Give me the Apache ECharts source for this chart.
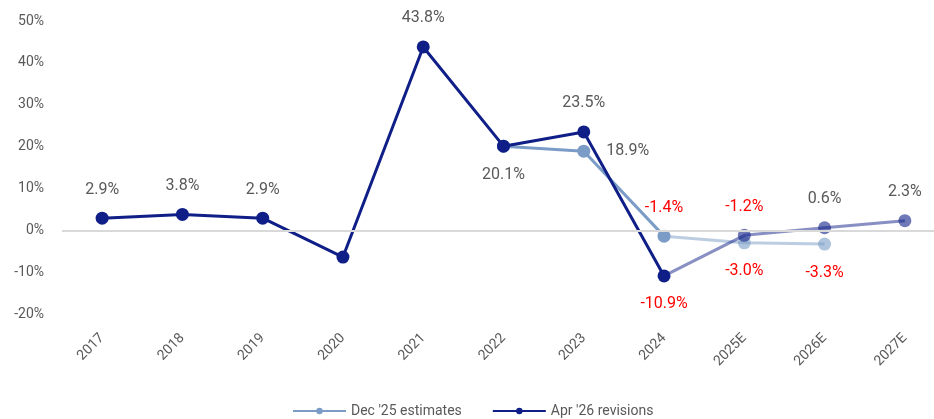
<!DOCTYPE html>
<html>
<head>
<meta charset="utf-8">
<script src="https://cdn.jsdelivr.net/npm/echarts@6/dist/echarts.min.js"></script>
<style>html,body{margin:0;padding:0;background:#fff;}#c{width:934px;height:419px;}</style>
</head>
<body>
<div id="c"></div>
<script>
const categories = ['2017','2018','2019','2020','2021','2022','2023','2024','2025E','2026E','2027E'];
const aprValues = [2.9, 3.8, 2.9, -6.4, 43.8, 20.1, 23.5, -10.9, -1.2, 0.6, 2.3];
const decValues = [null, null, null, null, null, 20.1, 18.9, -1.4, -3.0, -3.3, null];
const yTicks = [-20, -10, 0, 10, 20, 30, 40, 50];
const estimateStart = 7; // 2024 onwards shown faded
const aprLabelPos = ['top','top','top',null,'top','bottom','top','bottom','top','top','top'];
const decLabelPos = [null,null,null,null,null,null,'right','top','bottom','bottom',null];

const APR = [15, 31, 135], DEC = [122, 156, 198];
const FONT = 'Roboto';
const rgba = (c, a) => `rgba(${c[0]},${c[1]},${c[2]},${a})`;

function buildData(values, positions, solid) {
  return values.map((v, i) => {
    if (v === null) return null;
    if (solid && i > estimateStart) return null;
    if (!solid && i < estimateStart) return null;
    const labelHere = positions[i] && (solid ? i <= estimateStart : i > estimateStart);
    const item = { value: v };
    if (!solid && i === estimateStart) item.symbolSize = 0;
    item.label = labelHere ? {
      show: true, position: positions[i], distance: positions[i] === 'right' ? 16 : 14,
      color: v < 0 ? '#ff0000' : '#595959', fontSize: 16, fontFamily: FONT,
      formatter: p => p.value.toFixed(1) + '%'
    } : { show: false };
    return item;
  });
}

function series(name, color, values, positions, solid, z) {
  return {
    name, type: 'line', z,
    data: buildData(values, positions, solid),
    symbol: 'circle', symbolSize: 13,
    connectNulls: false,
    lineStyle: { color: rgba(color, solid ? 1 : 0.5), width: 3 },
    itemStyle: { color: rgba(color, solid ? 1 : 0.6) },
    emphasis: { disabled: true }
  };
}

const decName = "Dec '25 estimates", aprName = "Apr '26 revisions";
const decSolid = series(decName, DEC, decValues, decLabelPos, true, 3);
const aprSolid = series(aprName, APR, aprValues, aprLabelPos, true, 4);
const decFaded = series(decName, DEC, decValues, decLabelPos, false, 1);
const aprFaded = series(aprName, APR, aprValues, aprLabelPos, false, 2);
decFaded.markLine = {
  silent: true, symbol: 'none', label: { show: false },
  lineStyle: { color: '#d9d9d9', width: 2, type: 'solid' },
  data: [{ yAxis: 0 }]
};

const chart = echarts.init(document.getElementById('c'));
chart.setOption({
  animation: false,
  textStyle: { fontFamily: FONT },
  grid: { left: 62, top: 21, width: 883, height: 293, outerBoundsMode: 'none', containLabel: false },
  xAxis: {
    type: 'category', data: categories,
    axisLine: { show: false }, axisTick: { show: false },
    axisLabel: { rotate: 45, interval: 0, color: '#595959', fontSize: 14, margin: 22, fontFamily: FONT }
  },
  yAxis: {
    type: 'value', min: yTicks[0], max: yTicks[yTicks.length - 1], interval: 10,
    splitLine: { show: false }, axisLine: { show: false }, axisTick: { show: false },
    axisLabel: { formatter: '{value}%', color: '#595959', fontSize: 14, margin: 18, fontFamily: FONT }
  },
  legend: {
    data: [decName, aprName], left: 287, top: 399,
    itemWidth: 53, itemHeight: 8, itemGap: 30,
    textStyle: { color: '#595959', fontSize: 14, fontFamily: FONT }
  },
  series: [decSolid, aprSolid, decFaded, aprFaded]
});
</script>
</body>
</html>
